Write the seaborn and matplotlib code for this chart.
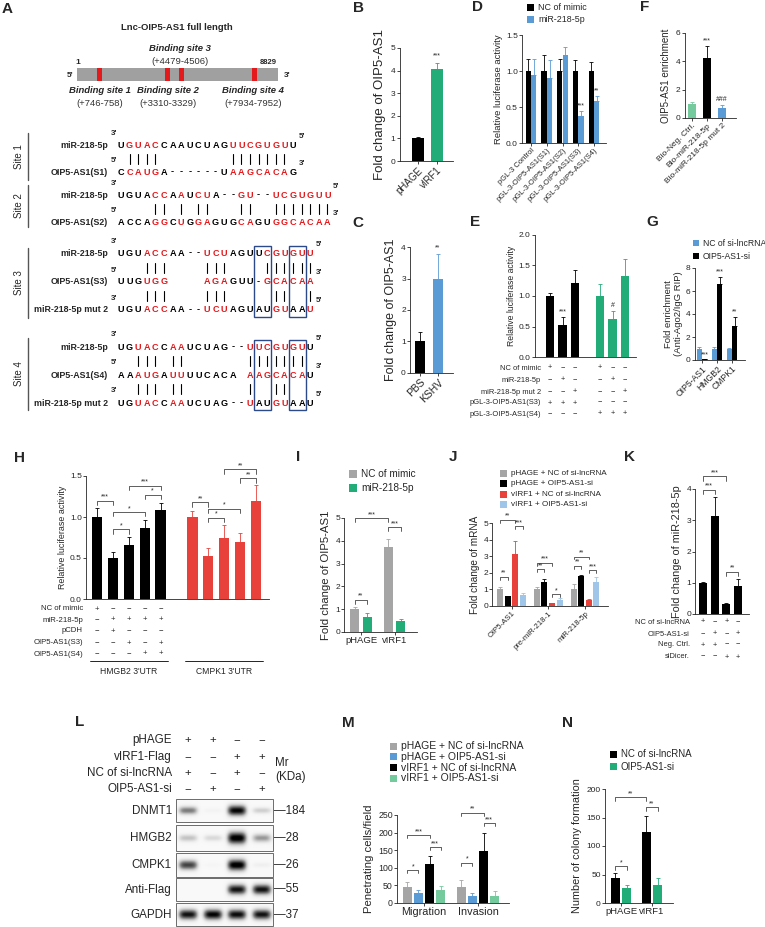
import numpy as np
import pandas as pd
import matplotlib
matplotlib.use("Agg")
import matplotlib.pyplot as plt
import matplotlib.transforms as mtransforms
from matplotlib.patches import Rectangle
import seaborn as sns

sns.set_theme(style="ticks")
plt.rcParams['font.family'] = ['Liberation Sans', 'DejaVu Sans']
plt.rcParams['axes.linewidth'] = 0.6
plt.rcParams['xtick.major.width'] = 0.6
plt.rcParams['ytick.major.width'] = 0.6

W, H = 765, 927
BLACK = '#000000'
GREEN = '#22ad78'
LGREEN = '#74c99d'
BLUE = '#5b9bd5'
LBLUE = '#9fc5e8'
GRAY = '#a5a5a5'
RED = '#e8413c'
SEQ_RED = '#e3191c'
BOX = '#2c4a8a'

# ---------------- data ----------------
# A: binding sites on lnc-OIP5-AS1
site_names = ['Binding site 1', 'Binding site 2', 'Binding site 3', 'Binding site 4']
site_ranges = ['(+746-758)', '(+3310-3329)', '(+4479-4506)', '(+7934-7952)']

s1_mir = "UGUACCAAUCUAGUUCGUGUU"
s1_lnc = "CCAUGA------UAAGCACAG"
s1_red_mir = [1, 2, 3, 4] + list(range(13, 20))
s1_red_lnc = [1, 2, 3, 4] + list(range(13, 20))
s1_pairs = [1, 2, 3, 4] + list(range(13, 20))

s2_mir = "UGUACCAAUCUA--GU--UCGUGUU"
s2_lnc = "ACCAGGCUGGAGUGCAGUGGCACAA"
s2_red_mir = [4, 5, 7, 9, 10, 14, 15] + list(range(18, 25))
s2_red_lnc = [4, 5, 7, 9, 10, 14, 15] + list(range(18, 25))
s2_pairs = [4, 5, 7, 9, 10, 14, 15] + list(range(18, 25))

s3_mir = "UGUACCAA--UCUAGUUCGUGUU"
s3_lnc = "UUGUGG    AGAGUU-GCACAA"
s3_mut = "UGUACCAA--UCUAGUAUGUAAU"
s3_red_mir = [3, 4, 5, 10, 11, 12] + list(range(17, 23))
s3_red_lnc = [3, 4, 5, 10, 11, 12] + list(range(17, 23))
s3_red_mut = [3, 4, 5, 10, 11, 12, 18, 19, 22]
s3_pairs_a = [3, 4, 5, 10, 11, 12] + list(range(17, 23))
s3_pairs_b = [3, 4, 5, 10, 11, 12, 18, 19, 22]

s4_mir = "UGUACCAAUCUAG--UUCGUGUU"
s4_lnc = "AAAUGAUUUUCACA AAGCACAU"
s4_mut = "UGUACCAAUCUAG--UAUGUAAU"
s4_red_mir = [2, 3, 4, 6, 7] + list(range(15, 22))
s4_red_lnc = [2, 3, 4, 6, 7] + list(range(15, 22))
s4_red_mut = [2, 3, 4, 6, 7, 15, 18, 19]
s4_pairs_a = [2, 3, 4, 6, 7] + list(range(15, 22))
s4_pairs_b = [2, 3, 4, 6, 7, 15, 18, 19]

# B
b_cats = ['pHAGE', 'vIRF1']
b_vals = [1.0, 4.05]
b_err = [0.06, 0.28]
# C
c_cats = ['PBS', 'KSHV']
c_vals = [1.0, 2.97]
c_err = [0.3, 0.8]
# D
d_cats = ['pGL-3 Control', 'pGL-3-OIP5-AS1(S1)', 'pGL-3-OIP5-AS1(S2)',
          'pGL-3-OIP5-AS1(S3)', 'pGL-3-OIP5-AS1(S4)']
d_series = ['NC of mimic', 'miR-218-5p']
d_nc = [1.0, 1.0, 1.0, 1.0, 1.0]
d_nc_err = [0.16, 0.22, 0.16, 0.15, 0.13]
d_mir = [0.95, 0.90, 1.22, 0.38, 0.59]
d_mir_err = [0.21, 0.25, 0.11, 0.06, 0.06]
# E
e_slots = ['S3a', 'S3b', 'S3c', ' ', 'S4a', 'S4b', 'S4c']
e_bars = ['S3a', 'S3b', 'S3c', 'S4a', 'S4b', 'S4c']
e_group = ['S3', 'S3', 'S3', 'S4', 'S4', 'S4']
e_vals = [1.0, 0.52, 1.21, 1.0, 0.62, 1.32]
e_err = [0.05, 0.14, 0.22, 0.19, 0.14, 0.29]
e_rows = ['NC of mimic', 'miR-218-5p', 'miR-218-5p mut 2', 'pGL-3-OIP5-AS1(S3)', 'pGL-3-OIP5-AS1(S4)']
e_signs = ['+−−+−−', '−+−−+−', '−−+−−+', '+++−−−', '−−−+++']
# F
f_cats = ['Bio-Neg. Ctrl.', 'Bio-miR-218-5p', 'Bio-miR-218-5p mut 2']
f_vals = [1.0, 4.25, 0.72]
f_err = [0.12, 0.8, 0.18]
# G
g_cats = ['OIP5-AS1', 'HMGB2', 'CMPK1']
g_series = ['NC of si-lncRNA', 'OIP5-AS1-si']
g_nc = [1.0, 1.0, 1.0]
g_nc_err = [0.1, 0.15, 0.06]
g_si = [0.1, 6.65, 2.95]
g_si_err = [0.03, 0.55, 0.8]
# H
h_slots = ['H1', 'H2', 'H3', 'H4', 'H5', ' ', 'C1', 'C2', 'C3', 'C4', 'C5']
h_bars = ['H1', 'H2', 'H3', 'H4', 'H5', 'C1', 'C2', 'C3', 'C4', 'C5']
h_group = ['HMGB2 3\'UTR'] * 5 + ['CMPK1 3\'UTR'] * 5
h_vals = [1.0, 0.5, 0.66, 0.86, 1.08, 1.0, 0.52, 0.75, 0.70, 1.20]
h_err = [0.11, 0.07, 0.10, 0.10, 0.09, 0.07, 0.10, 0.15, 0.10, 0.19]
h_rows = ['NC of mimic', 'miR-218-5p', 'pCDH', 'OIP5-AS1(S3)', 'OIP5-AS1(S4)']
h_signs = ['+−−−−', '−++++', '−+−−−', '−−+−+', '−−−++']
h_brackets = [(0, 1, 1.20, '***'), (1, 3, 1.06, '*'), (1, 2, 0.85, '*'), (2, 4, 1.38, '***'),
              (3, 4, 1.27, '*'), (5, 6, 1.18, '**'), (6, 8, 1.10, '*'), (6, 7, 0.99, '*'),
              (7, 9, 1.58, '**'), (8, 9, 1.47, '**')]
# I
i_cats = ['pHAGE', 'vIRF1']
i_series = ['NC of mimic', 'miR-218-5p']
i_nc = [1.0, 3.75]
i_nc_err = [0.08, 0.35]
i_mir = [0.66, 0.50]
i_mir_err = [0.18, 0.05]
i_brackets = [(0, 1, 1.42, '**'), (0, 2, 5.0, '***'), (2, 3, 4.6, '***')]
# J
j_cats = ['OIP5-AS1', 'pre-miR-218-1', 'miR-218-5p']
j_series = ['pHAGE + NC of si-lncRNA', 'pHAGE + OIP5-AS1-si',
            'vIRF1 + NC of si-lncRNA', 'vIRF1 + OIP5-AS1-si']
j_ph_nc = [1.0, 1.0, 1.0]
j_ph_nc_err = [0.15, 0.12, 0.3]
j_ph_si = [0.6, 1.42, 1.8]
j_ph_si_err = [0.03, 0.2, 0.05]
j_vi_nc = [3.15, 0.18, 0.35]
j_vi_nc_err = [0.75, 0.03, 0.07]
j_vi_si = [0.65, 0.38, 1.44]
j_vi_si_err = [0.12, 0.1, 0.3]
j_brackets = [(0, 1, 1.76, '**'), (0, 2, 5.2, '**'), (2, 3, 4.8, '***'),
              (4, 5, 2.23, '**'), (4, 6, 2.6, '***'), (6, 7, 0.7, '*'),
              (8, 9, 2.43, '**'), (8, 10, 2.98, '**'), (10, 11, 2.17, '***')]
# K
k_cats = ['k1', 'k2', 'k3', 'k4']
k_vals = [1.0, 3.15, 0.33, 0.9]
k_err = [0.02, 0.6, 0.03, 0.22]
k_rows = ['NC of si-lncRNA', 'OIP5-AS1-si', 'Neg. Ctrl.', 'siDicer.']
k_signs = ['+−+−', '−+−+', '++−−', '−−++']
k_brackets = [(0, 1, 3.98, '***'), (0, 2, 4.4, '***'), (2, 3, 1.35, '**')]
# L (western blot band strengths per lane)
l_rows = ['pHAGE', 'vIRF1-Flag', 'NC of si-lncRNA', 'OIP5-AS1-si']
l_signs = ['++−−', '−−++', '+−+−', '−+−+']
l_blots = ['DNMT1', 'HMGB2', 'CMPK1', 'Anti-Flag', 'GAPDH']
l_mr = ['184', '28', '26', '55', '37']
l_dnmt1 = [0.55, 0.05, 0.95, 0.25]
l_hmgb2 = [0.30, 0.20, 1.00, 0.45]
l_cmpk1 = [0.75, 0.03, 1.00, 0.08]
l_flag = [0.0, 0.0, 0.90, 0.90]
l_gapdh = [0.90, 0.95, 0.92, 0.90]
# M
m_cats = ['Migration', 'Invasion']
m_series = ['pHAGE + NC of si-lncRNA', 'pHAGE + OIP5-AS1-si',
            'vIRF1 + NC of si-lncRNA', 'vIRF1 + OIP5-AS1-si']
m_ph_nc = [46, 45]
m_ph_nc_err = [15, 19]
m_ph_si = [27, 20]
m_ph_si_err = [11, 9]
m_vi_nc = [112, 148]
m_vi_nc_err = [22, 50]
m_vi_si = [37, 21]
m_vi_si_err = [12, 13]
m_brackets = [(0, 1, 94, '*'), (0, 2, 193, '***'), (2, 3, 159, '***'),
              (4, 5, 114, '*'), (4, 6, 256, '**'), (6, 7, 227, '***')]
# N
n_cats = ['pHAGE', 'vIRF1']
n_series = ['NC of si-lncRNA', 'OIP5-AS1-si']
n_nc = [43, 125]
n_nc_err = [9, 28]
n_si = [27, 31]
n_si_err = [5, 12]
n_brackets = [(0, 1, 65, '*'), (0, 2, 186, '**'), (2, 3, 168, '**')]

# ---------------- helpers ----------------
fig = plt.figure(figsize=(W / 100, H / 100), dpi=100)
fig.patch.set_facecolor('white')
ov = fig.add_axes([0, 0, 1, 1])
ov.set_xlim(0, W)
ov.set_ylim(H, 0)
ov.axis('off')
ov.set_zorder(10)


def make_axes(c0, c1, n, top, bottom, lpad=0, rpad=3):
    slot = (c1 - c0) / (n - 1)
    left = c0 - slot / 2 - lpad
    right = c1 + slot / 2 + rpad
    ax = fig.add_axes([left / W, 1 - bottom / H, (right - left) / W, (bottom - top) / H])
    ax.set_facecolor('none')
    return ax, (-0.5 - lpad / slot, n - 0.5 + rpad / slot)


def interleave(*cols):
    return [v for grp in zip(*cols) for v in grp]


def draw_bars(ax, xl, x, hue, vals, errs, palette, order, width, dodge, gap=0.0):
    df = pd.DataFrame({'x': x, 'hue': hue, 'val': vals})
    sns.barplot(data=df, x='x', y='val', hue='hue', order=order,
                hue_order=list(dict.fromkeys(hue)), palette=palette, dodge=dodge,
                width=width, gap=gap, errorbar=None, saturation=1, legend=False,
                linewidth=0, ax=ax)
    rects = sorted([p for p in ax.patches if p.get_height() > 0], key=lambda p: p.get_x())
    xs, tops = [], []
    for p, e in zip(rects, errs):
        cx = p.get_x() + p.get_width() / 2
        h = p.get_height()
        ax.errorbar(cx, h, yerr=[[0], [e]], fmt='none', ecolor=p.get_facecolor(),
                    elinewidth=0.6, capsize=1.6, capthick=0.6)
        xs.append(cx)
        tops.append(h + e)
    ax.set_xlim(xl)
    sns.despine(ax=ax)
    ax.set_xlabel('')
    ax.set_ylabel('')
    ax.tick_params(length=2, width=0.6, labelsize=6, pad=1)
    return xs, tops


def rot_labels(ax, labels, size):
    ax.set_xticklabels(labels, rotation=45, ha='right', rotation_mode='anchor', fontsize=size)


def bracket(ax, xs, i, j, y, label, ymax):
    h = 0.035 * ymax
    ax.plot([xs[i], xs[i], xs[j], xs[j]], [y - h, y, y, y - h], color='#444444', lw=0.6, clip_on=False)
    ax.text((xs[i] + xs[j]) / 2, y, label, ha='center', va='bottom', fontsize=5, clip_on=False)


def star(ax, x, y, label, dy):
    ax.text(x, y + dy, label, ha='center', va='bottom', fontsize=5, clip_on=False)


def sign_table(ax, xs, rows, signs, ys, label_x, size=5.5):
    tr = mtransforms.blended_transform_factory(ax.transData, ov.transData)
    for row, sg, y in zip(rows, signs, ys):
        ov.text(label_x, y, row, ha='right', va='center', fontsize=size)
        for x, s in zip(xs, sg):
            ax.text(x, y, s, transform=tr, ha='center', va='center', fontsize=size, clip_on=False)


def legend(x, y, labels, colors, size, step, sq=6):
    for k, (lab, col) in enumerate(zip(labels, colors)):
        yy = y + k * step
        ov.add_patch(Rectangle((x, yy - sq / 2), sq, sq, color=col, lw=0))
        ov.text(x + sq + 4, yy, lab, va='center', ha='left', fontsize=size)


def letter(x, y, s):
    ov.text(x, y, s, fontsize=11, fontweight='bold', ha='center', va='center')


# ---------------- panel A ----------------
letter(7, 9, 'A')
ov.text(177, 27, 'Lnc-OIP5-AS1 full length', ha='center', va='center', fontsize=6.8, fontweight='bold')
ov.add_patch(Rectangle((77, 68), 201, 13, color='#a0a0a0', lw=0))
for mx in [100, 168, 182, 255]:
    ov.add_patch(Rectangle((mx - 2.5, 68), 5, 13, color=SEQ_RED, lw=0))
ov.text(78, 62, '1', ha='center', va='center', fontsize=6, fontweight='bold')
ov.text(268, 62, '8829', ha='center', va='center', fontsize=5.5, fontweight='bold')
ov.text(70, 75, "5'", ha='center', va='center', fontsize=6, fontweight='bold')
ov.text(287, 75, "3'", ha='center', va='center', fontsize=6, fontweight='bold')
for name, rng, (cx, cy) in zip(site_names, site_ranges, [(100, 90), (168, 90), (180, 48), (253, 90)]):
    ov.text(cx, cy, name, ha='center', va='center', fontsize=6.8, style='italic', fontweight='bold')
    ov.text(cx, cy + 13, rng, ha='center', va='center', fontsize=6.8, color='#333333')

DX = 8.6
X0 = 121


def seq(y, s, reds):
    for i, ch in enumerate(s):
        if ch != ' ':
            ov.text(X0 + i * DX, y, ch, ha='center', va='center', fontsize=6.6, fontweight='bold',
                    color=SEQ_RED if i in reds else 'black')


def pairs(y, idx):
    for i in idx:
        ov.plot([X0 + i * DX] * 2, [y - 5, y + 5], color='black', lw=0.8)


def box(a, b, y0, y1):
    ov.add_patch(Rectangle((X0 + (a - 0.5) * DX, y0), (b - a + 1) * DX, y1 - y0,
                           fill=False, ec=BOX, lw=1))


sites = [
    ('Site 1', [('miR-218-5p', s1_mir, s1_red_mir, "3'", "5'"),
                ('OIP5-AS1(S1)', s1_lnc, s1_red_lnc, "5'", "3'")],
     [s1_pairs], [145, 172], [], (133, 180)),
    ('Site 2', [('miR-218-5p', s2_mir, s2_red_mir, "3'", "5'"),
                ('OIP5-AS1(S2)', s2_lnc, s2_red_lnc, "5'", "3'")],
     [s2_pairs], [195, 222], [], (185, 227)),
    ('Site 3', [('miR-218-5p', s3_mir, s3_red_mir, "3'", "5'"),
                ('OIP5-AS1(S3)', s3_lnc, s3_red_lnc, "5'", "3'"),
                ('miR-218-5p mut 2', s3_mut, s3_red_mut, "3'", "5'")],
     [s3_pairs_a, s3_pairs_b], [253, 282, 310], [(16, 17), (20, 21)], (248, 318)),
    ('Site 4', [('miR-218-5p', s4_mir, s4_red_mir, "3'", "5'"),
                ('OIP5-AS1(S4)', s4_lnc, s4_red_lnc, "5'", "3'"),
                ('miR-218-5p mut 2', s4_mut, s4_red_mut, "3'", "5'")],
     [s4_pairs_a, s4_pairs_b], [347, 375, 403], [(16, 17), (20, 21)], (338, 410)),
]
for title, rows, prs, ys, boxes, (ly0, ly1) in sites:
    ov.plot([28, 28], [ly0, ly1], color='#555555', lw=1)
    ov.text(19, (ly0 + ly1) / 2, title, rotation=90, ha='center', va='center', fontsize=7)
    for (lab, s, reds, lend, rend), y in zip(rows, ys):
        ov.text(108, y, lab, ha='right', va='center', fontsize=6.4, fontweight='bold')
        seq(y, s, reds)
        ov.text(X0 - 7, y - 12, lend, ha='center', va='center', fontsize=5.8, fontweight='bold')
        ov.text(X0 + (len(s) - 1) * DX + 9, y - 9, rend, ha='center', va='center', fontsize=5.8, fontweight='bold')
    for p, ya, yb in zip(prs, ys[:-1], ys[1:]):
        pairs((ya + yb) / 2, p)
    for a, b in boxes:
        box(a, b, ys[0] - 7, ys[-1] + 7)

# ---------------- panel B ----------------
letter(359, 8, 'B')
ax, xl = make_axes(418, 437, 2, 48, 161, lpad=9, rpad=6)
xs, tops = draw_bars(ax, xl, b_cats, b_cats, b_vals, b_err, {'pHAGE': BLACK, 'vIRF1': GREEN},
                     b_cats, 0.63, False)
ax.set_ylim(0, 5)
ax.set_yticks(range(6))
rot_labels(ax, b_cats, 7)
star(ax, xs[1], tops[1], '***', 0.15)
ax.set_ylabel('Fold change of OIP5-AS1', fontsize=9.5, labelpad=3)

# ---------------- panel C ----------------
letter(358, 223, 'C')
ax, xl = make_axes(420, 438, 2, 247, 373, lpad=1, rpad=6)
xs, tops = draw_bars(ax, xl, c_cats, c_cats, c_vals, c_err, {'PBS': BLACK, 'KSHV': BLUE},
                     c_cats, 0.55, False)
ax.set_ylim(0, 4)
ax.set_yticks(range(5))
rot_labels(ax, c_cats, 7.5)
star(ax, xs[1], tops[1], '**', 0.08)
ax.set_ylabel('Fold change of OIP5-AS1', fontsize=9, labelpad=3)

# ---------------- panel D ----------------
letter(478, 7, 'D')
legend(527, 7, d_series, [BLACK, BLUE], 6.4, 12, sq=7)
ax, xl = make_axes(531, 594, 5, 35, 143, lpad=1, rpad=4)
xs, tops = draw_bars(ax, xl, [c for c in d_cats for _ in d_series], d_series * 5,
                     interleave(d_nc, d_mir), interleave(d_nc_err, d_mir_err),
                     {'NC of mimic': BLACK, 'miR-218-5p': BLUE}, d_cats, 0.72, True, gap=0.08)
ax.set_ylim(0, 1.5)
ax.set_yticks([0, 0.5, 1.0, 1.5])
ax.set_yticklabels(['0.0', '0.5', '1.0', '1.5'])
rot_labels(ax, d_cats, 5.5)
star(ax, xs[7], tops[7], '***', 0.02)
star(ax, xs[9], tops[9], '**', 0.02)
ax.set_ylabel('Relative luciferase activity', fontsize=6.8, labelpad=2)

# ---------------- panel E ----------------
letter(475, 222, 'E')
ax, xl = make_axes(550, 625, 7, 235, 357, lpad=9, rpad=5)
xs, tops = draw_bars(ax, xl, e_bars, e_group, e_vals, e_err, {'S3': BLACK, 'S4': GREEN},
                     e_slots, 0.65, False)
ax.set_ylim(0, 2.0)
ax.set_yticks([0, 0.5, 1.0, 1.5, 2.0])
ax.set_yticklabels(['0.0', '0.5', '1.0', '1.5', '2.0'])
ax.set_xticks([])
star(ax, xs[1], tops[1], '***', 0.03)
star(ax, xs[4], tops[4], '#', 0.03)
ax.set_ylabel('Relative luciferase activity', fontsize=6.2, labelpad=2)
sign_table(ax, xs, e_rows, e_signs, [368, 380, 392, 403, 414], 541, size=5.4)

# ---------------- panel F ----------------
letter(645, 7, 'F')
ax, xl = make_axes(692, 722, 3, 33, 118, lpad=0, rpad=6)
xs, tops = draw_bars(ax, xl, f_cats, f_cats, f_vals, f_err,
                     {f_cats[0]: LGREEN, f_cats[1]: BLACK, f_cats[2]: BLUE}, f_cats, 0.5, False)
ax.set_ylim(0, 6)
ax.set_yticks([0, 2, 4, 6])
rot_labels(ax, f_cats, 6)
star(ax, xs[1], tops[1], '***', 0.15)
star(ax, xs[2], tops[2], '###', 0.15)
ax.set_ylabel('OIP5-AS1 enrichment', fontsize=7, labelpad=3)

# ---------------- panel G ----------------
letter(652, 222, 'G')
legend(693, 243, g_series, [BLUE, BLACK], 6.2, 13, sq=6)
ax, xl = make_axes(702, 732, 3, 268, 360, lpad=0, rpad=5)
xs, tops = draw_bars(ax, xl, [c for c in g_cats for _ in g_series], g_series * 3,
                     interleave(g_nc, g_si), interleave(g_nc_err, g_si_err),
                     {g_series[0]: BLUE, g_series[1]: BLACK}, g_cats, 0.7, True, gap=0.1)
ax.set_ylim(0, 8)
ax.set_yticks([0, 2, 4, 6, 8])
rot_labels(ax, g_cats, 6.2)
star(ax, xs[1], tops[1], '***', 0.05)
star(ax, xs[3], tops[3], '***', 0.15)
star(ax, xs[5], tops[5], '**', 0.15)
ax.set_ylabel('Fold enrichment\n(Anti-Ago2/IgG RIP)', fontsize=6.8, labelpad=2, linespacing=1.1)

# ---------------- panel H ----------------
letter(20, 458, 'H')
ax, xl = make_axes(97, 256, 11, 476, 599, lpad=3, rpad=5)
xs, tops = draw_bars(ax, xl, h_bars, h_group, h_vals, h_err,
                     {h_group[0]: BLACK, h_group[-1]: RED}, h_slots, 0.65, False)
ax.set_ylim(0, 1.5)
ax.set_yticks([0, 0.5, 1.0, 1.5])
ax.set_yticklabels(['0.0', '0.5', '1.0', '1.5'])
ax.set_xticks([])
for i, j, y, lab in h_brackets:
    bracket(ax, xs, i, j, y, lab, 1.5)
ax.set_ylabel('Relative luciferase activity', fontsize=6.4, labelpad=2)
sign_table(ax, xs, h_rows, h_signs, [609, 620, 631, 643, 654], 83, size=5.6)
tr = mtransforms.blended_transform_factory(ax.transData, ov.transData)
for g0, g1, name in [(0, 4, h_group[0]), (5, 9, h_group[-1])]:
    ax.plot([xs[g0] - 0.45, xs[g1] + 0.45], [661, 661], transform=tr, color='black', lw=0.6, clip_on=False)
    ax.text((xs[g0] + xs[g1]) / 2, 672, name, transform=tr, ha='center', va='center', fontsize=6.2)

# ---------------- panel I ----------------
letter(298, 457, 'I')
legend(349, 474, i_series, [GRAY, GREEN], 7.2, 14, sq=8)
ax, xl = make_axes(361, 394.5, 2, 518, 632, lpad=0, rpad=6)
xs, tops = draw_bars(ax, xl, [c for c in i_cats for _ in i_series], i_series * 2,
                     interleave(i_nc, i_mir), interleave(i_nc_err, i_mir_err),
                     {i_series[0]: GRAY, i_series[1]: GREEN}, i_cats, 0.72, True, gap=0.25)
ax.set_ylim(0, 5)
ax.set_yticks(range(6))
ax.set_xticklabels(i_cats, fontsize=6.8)
for i, j, y, lab in i_brackets:
    bracket(ax, xs, i, j, y, lab, 5)
ax.set_ylabel('Fold change of OIP5-AS1', fontsize=8.2, labelpad=3)

# ---------------- panel J ----------------
letter(453, 457, 'J')
legend(500, 473, j_series, [GRAY, BLACK, RED, LBLUE], 5.9, 10.5, sq=7)
ax, xl = make_axes(511.5, 585, 3, 523, 606, lpad=1, rpad=5)
xs, tops = draw_bars(ax, xl, [c for c in j_cats for _ in j_series], j_series * 3,
                     interleave(j_ph_nc, j_ph_si, j_vi_nc, j_vi_si),
                     interleave(j_ph_nc_err, j_ph_si_err, j_vi_nc_err, j_vi_si_err),
                     dict(zip(j_series, [GRAY, BLACK, RED, LBLUE])), j_cats, 0.82, True, gap=0.2)
ax.set_ylim(0, 5)
ax.set_yticks(range(6))
rot_labels(ax, j_cats, 5.6)
for i, j, y, lab in j_brackets:
    bracket(ax, xs, i, j, y, lab, 5)
ax.set_ylabel('Fold change of mRNA', fontsize=7.2, labelpad=2)

# ---------------- panel K ----------------
letter(630, 457, 'K')
ax, xl = make_axes(703, 738, 4, 489, 614, lpad=2, rpad=5)
xs, tops = draw_bars(ax, xl, k_cats, ['k'] * 4, k_vals, k_err, {'k': BLACK}, k_cats, 0.7, False)
ax.set_ylim(0, 4)
ax.set_yticks(range(5))
ax.set_xticks([])
for i, j, y, lab in k_brackets:
    bracket(ax, xs, i, j, y, lab, 4)
ax.set_ylabel('Fold change of miR-218-5p', fontsize=7.8, labelpad=3)
sign_table(ax, xs, k_rows, k_signs, [622, 634, 645, 657], 690, size=5.4)

# ---------------- panel L ----------------
letter(80, 722, 'L')
lane_x = [188, 213, 237, 262]
for row, sg, y in zip(l_rows, l_signs, [740, 757, 773, 789]):
    ov.text(172, y, row, ha='right', va='center', fontsize=8.4)
    for x, s in zip(lane_x, sg):
        ov.text(x, y, s, ha='center', va='center', fontsize=8.2)
ov.text(275, 763, 'Mr', ha='left', va='center', fontsize=8.4)
ov.text(275, 777, '(KDa)', ha='left', va='center', fontsize=8.4)
blot_left, blot_right = 176, 273
blot_spans = [(799, 822), (825, 851), (853, 877), (878, 901), (903, 926)]
blot_vals = [l_dnmt1, l_hmgb2, l_cmpk1, l_flag, l_gapdh]
xx = np.linspace(blot_left, blot_right, 240)
for name, mr, (y0, y1), strength in zip(l_blots, l_mr, blot_spans, blot_vals):
    yy = np.linspace(0, 1, 60)
    img = np.full((60, 240), 0.05)
    for lx, a in zip(lane_x, strength):
        hx = np.exp(-((xx - lx) / 9.5) ** 4)
        vy = np.exp(-((yy - 0.5) / (0.1 + 0.14 * a)) ** 2)
        img += a * np.outer(vy, hx)
    ov.imshow(np.clip(img, 0, 1), extent=(blot_left, blot_right, y1, y0), cmap='Greys',
              vmin=0, vmax=1, aspect='auto', interpolation='bilinear')
    ov.add_patch(Rectangle((blot_left, y0), blot_right - blot_left, y1 - y0, fill=False, ec='#555555', lw=0.6))
    ov.text(172, (y0 + y1) / 2, name, ha='right', va='center', fontsize=8.4)
    ov.text(274, (y0 + y1) / 2, '—' + mr, ha='left', va='center', fontsize=8.4)
ov.set_xlim(0, W)
ov.set_ylim(H, 0)

# ---------------- panel M ----------------
letter(348, 723, 'M')
legend(390, 746, m_series, [GRAY, BLUE, BLACK, LGREEN], 7.5, 10.8, sq=7)
ax, xl = make_axes(424, 478, 2, 815, 903, lpad=0, rpad=4)
xs, tops = draw_bars(ax, xl, [c for c in m_cats for _ in m_series], m_series * 2,
                     interleave(m_ph_nc, m_ph_si, m_vi_nc, m_vi_si),
                     interleave(m_ph_nc_err, m_ph_si_err, m_vi_nc_err, m_vi_si_err),
                     dict(zip(m_series, [GRAY, BLUE, BLACK, LGREEN])), m_cats, 0.83, True, gap=0.2)
ax.set_ylim(0, 250)
ax.set_yticks(range(0, 251, 50))
ax.set_xticklabels(m_cats, fontsize=7.8)
ax.tick_params(axis='y', labelsize=6.3)
for i, j, y, lab in m_brackets:
    bracket(ax, xs, i, j, y, lab, 250)
ax.set_ylabel('Penetrating cells/field', fontsize=8.2, labelpad=3)

# ---------------- panel N ----------------
letter(568, 723, 'N')
legend(610, 754, n_series, [BLACK, GREEN], 7, 12.5, sq=7)
ax, xl = make_axes(621, 652, 2, 789, 903, lpad=0.5, rpad=5)
xs, tops = draw_bars(ax, xl, [c for c in n_cats for _ in n_series], n_series * 2,
                     interleave(n_nc, n_si), interleave(n_nc_err, n_si_err),
                     {n_series[0]: BLACK, n_series[1]: GREEN}, n_cats, 0.77, True, gap=0.25)
ax.set_ylim(0, 200)
ax.set_yticks(range(0, 201, 50))
ax.set_xticklabels(n_cats, fontsize=6.8)
for i, j, y, lab in n_brackets:
    bracket(ax, xs, i, j, y, lab, 200)
ax.set_ylabel('Number of colony formation', fontsize=7.8, labelpad=3)

fig.savefig('out.png', dpi=100, facecolor='white')
